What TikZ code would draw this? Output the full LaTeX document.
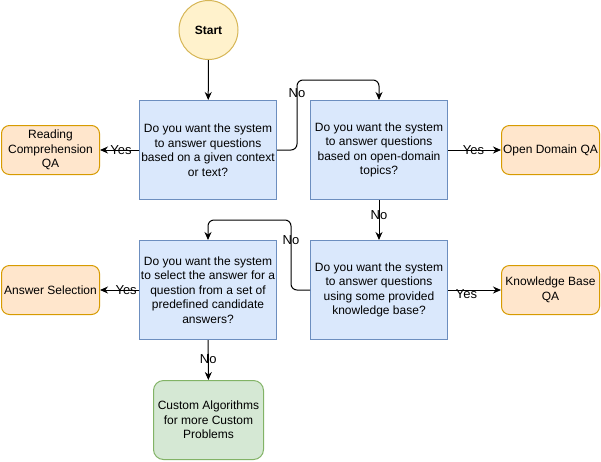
\documentclass[tikz,border=0pt]{standalone}
\usepackage{fontspec}
\setmainfont{Liberation Sans}
\usetikzlibrary{arrows.meta,calc}
\definecolor{qfill}{HTML}{DAE8FC}
\definecolor{qdraw}{HTML}{6C8EBF}
\definecolor{ofill}{HTML}{FFE6CC}
\definecolor{odraw}{HTML}{D79B00}
\definecolor{gfill}{HTML}{D5E8D4}
\definecolor{gdraw}{HTML}{82B366}
\definecolor{sfill}{HTML}{FFF2CC}
\definecolor{sdraw}{HTML}{D6B656}
\begin{document}
\begin{tikzpicture}[x=1pt,y=-1pt,
  every node/.style={font=\fontsize{12}{14.5}\selectfont},
  qbox/.style={draw=qdraw,fill=qfill,line width=1pt,minimum width=137pt,minimum height=99pt,inner sep=0pt,align=center},
  obox/.style={draw=odraw,fill=ofill,line width=1pt,rounded corners=8pt,minimum width=98pt,minimum height=49pt,inner sep=0pt,align=center},
  gbox/.style={draw=gdraw,fill=gfill,line width=1pt,rounded corners=10pt,minimum width=110pt,minimum height=79pt,inner sep=0pt,align=center},
  startnode/.style={circle,draw=sdraw,fill=sfill,line width=1pt,minimum size=59pt,inner sep=0pt,font=\fontsize{12}{14.5}\selectfont\bfseries},
  conn/.style={draw=black,line width=1pt,-{Stealth[length=8pt,width=7pt]}},
  lbl/.style={inner sep=0pt,font=\fontsize{13}{15}\selectfont}
]
\useasboundingbox (0,0) rectangle (601,461);
\node[startnode] (start) at (208.5,30) {Start};
\node[qbox] (q1) at (208,150) {Do you want the system\\to answer questions\\based on a given context\\or text?};
\node[qbox] (q2) at (379,150) {Do you want the system\\to answer questions\\based on open-domain\\topics?};
\node[qbox] (q3) at (208,290) {Do you want the system\\to select the answer for a\\question from a set of\\predefined candidate\\answers?};
\node[qbox] (q4) at (379,290) {Do you want the system\\to answer questions\\using some provided\\knowledge base?};
\node[obox] (rc) at (50.5,150) {Reading\\Comprehension\\QA};
\node[obox] (od) at (550.5,150) {Open Domain QA};
\node[obox] (as) at (50.5,290) {Answer Selection};
\node[obox] (kb) at (550.5,290) {Knowledge Base\\QA};
\node[gbox] (ca) at (208.5,420) {Custom Algorithms\\for more Custom\\Problems};

\draw[conn] (start) -- (q1);
\draw[conn] (q1.west) -- node[lbl,pos=0.46]{Yes} (rc.east);
\draw[conn] (q2.east) -- node[lbl,pos=0.48]{Yes} (od.west);
\draw[conn] (q4.east) -- node[lbl,pos=0.35,yshift=-4pt]{Yes} (kb.west);
\draw[conn] (q3.west) -- node[lbl,pos=0.33]{Yes} (as.east);
\draw[conn,rounded corners=6pt] (q1.east) -- ++(20,0) |- node[lbl,pos=0.41]{No} ([yshift=20pt]q2.north) -- (q2.north);
\draw[conn] (q2) -- node[lbl,pos=0.37]{No} (q4);
\draw[conn,rounded corners=6pt] (q4.west) -- ++(-19,0) |- node[lbl,pos=0.36]{No} ([yshift=20pt]q3.north) -- (q3.north);
\draw[conn] (q3) -- node[lbl,pos=0.47]{No} (ca);
\end{tikzpicture}
\end{document}
